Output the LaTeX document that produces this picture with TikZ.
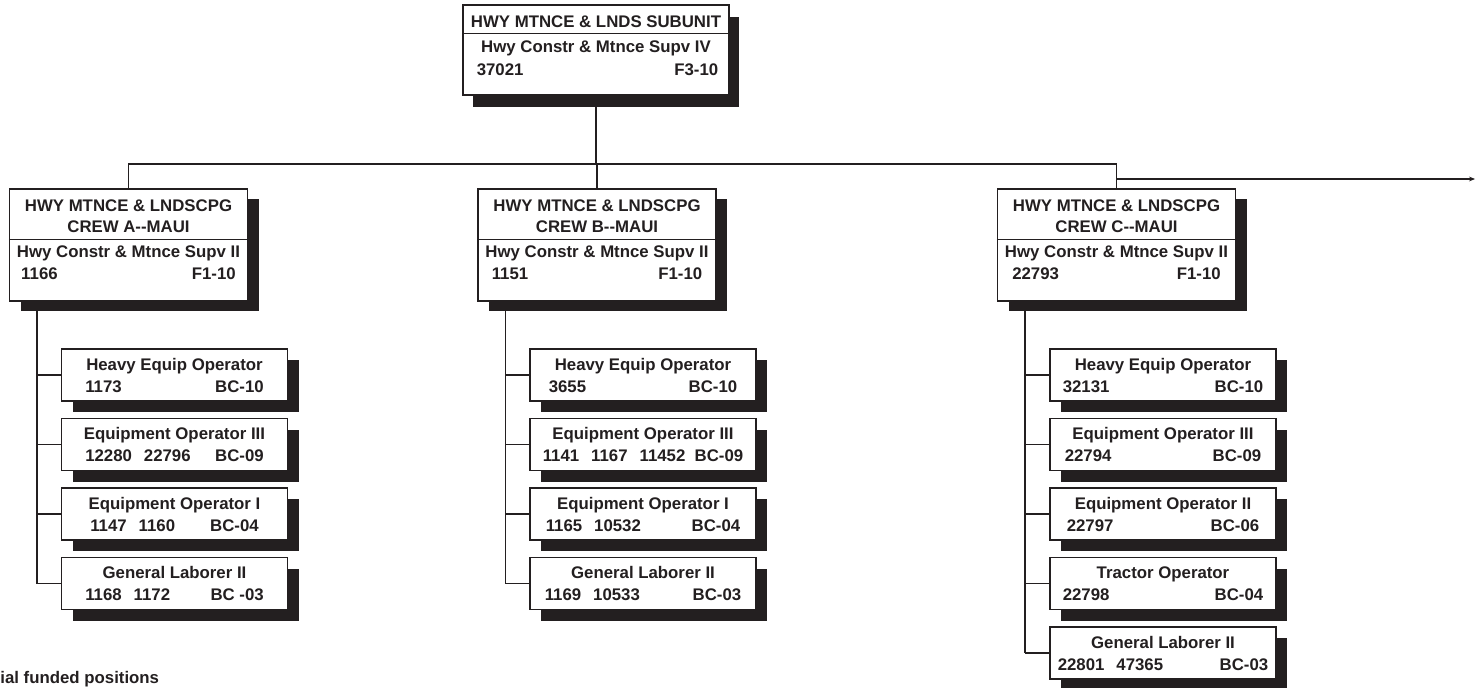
\documentclass[tikz,border=0pt]{standalone}
\usepackage{fontspec}
\setmainfont{Liberation Sans}
\usetikzlibrary{arrows.meta, positioning, calc, shadows, backgrounds}
\usepackage{xcolor}
\definecolor{ink}{HTML}{231F20}
\newcommand{\numgap}{\hspace{6pt}}

\begin{document}
\begin{tikzpicture}[x=0.5pt, y=-0.5pt,
    unit/.style={draw=ink, line width=0.65pt, fill=white, inner sep=0pt, minimum width=133pt, minimum height=45pt,
      drop shadow={shadow xshift=5pt, shadow yshift=-6pt, opacity=1, fill=ink}},
    crew/.style={draw=ink, line width=0.65pt, fill=white, inner sep=0pt, minimum width=119pt, minimum height=56pt,
      drop shadow={shadow xshift=5.5pt, shadow yshift=-5pt, opacity=1, fill=ink}},
    post/.style={draw=ink, line width=0.65pt, fill=white, inner sep=0pt, minimum width=113pt, minimum height=26pt,
      drop shadow={shadow xshift=5.5pt, shadow yshift=-5.5pt, opacity=1, fill=ink}},
    head/.style={font=\fontsize{8.4}{10}\selectfont\bfseries, text=ink, inner sep=0pt},
    link/.style={draw=ink, line width=0.65pt},
    rule/.style={draw=ink, line width=0.65pt}
  ]
    \useasboundingbox (0,0) rectangle (1477,687);

    % subunit
    \node[unit] (top) at (596,50) {};
    \draw[rule] ($(top.north west)+(0,29)$) -- ($(top.north east)+(0,29)$);
    \node[head, anchor=base] (top-u) at ($(top.north)+(0,23)$) {HWY MTNCE \& LNDS SUBUNIT};
    \node[head, anchor=base] (top-t) at ($(top.north)+(0,48)$) {Hwy Constr \& Mtnce Supv IV};
    \node[head, anchor=base west] (top-n) at ($(top.north west)+(14,71)$) {37021};
    \node[head, anchor=base east] (top-g) at ($(top.north east)+(-11,71)$) {F3-10};

    % crews
    \foreach \c/\x/\name/\num/\ins in {A/128.5/A/1166/12, B/597/B/1151/14, C/1116.5/C/22793/15} {
      \node[crew] (crew\c) at (\x,245) {};
      \draw[rule] ($(crew\c.north west)+(0,51)$) -- ($(crew\c.north east)+(0,51)$);
      \node[head, anchor=base] (crew\c-u) at ($(crew\c.north)+(0,23)$) {HWY MTNCE \& LNDSCPG};
      \node[head, anchor=base] (crew\c-w) at ($(crew\c.north)+(0,44)$) {CREW \name{-}{-}MAUI};
      \node[head, anchor=base] (crew\c-t) at ($(crew\c.north)+(0,69)$) {Hwy Constr \& Mtnce Supv II};
      \node[head, anchor=base west] (crew\c-n) at ($(crew\c.north west)+(\ins,91)$) {\num};
      \node[head, anchor=base east] (crew\c-g) at ($(crew\c.north east)+(-\ins,91)$) {F1-10};
      \coordinate (trunk\c) at ($(crew\c.south west)+(28,0)$);
    }

    % positions
    \foreach \id/\c/\x/\y/\job/\nums/\gr/\ins in {
        a1/A/174.5/375/Heavy Equip Operator/1173/BC-10/24,
        a2/A/174.5/444.5/Equipment Operator III/12280\numgap 22796/BC-09/24,
        a3/A/174.5/514/Equipment Operator I/1147\numgap 1160/BC-04/29,
        a4/A/174.5/583.5/General Laborer II/1168\numgap 1172/BC -03/24,
        b1/B/643/375/Heavy Equip Operator/3655/BC-10/19,
        b2/B/643/444.5/Equipment Operator III/1141\numgap 1167\numgap 11452/BC-09/13,
        b3/B/643/514/Equipment Operator I/1165\numgap 10532/BC-04/16,
        b4/B/643/583.5/General Laborer II/1169\numgap 10533/BC-03/15,
        c1/C/1163/375/Heavy Equip Operator/32131/BC-10/13,
        c2/C/1163/444.5/Equipment Operator III/22794/BC-09/15,
        c3/C/1163/514/Equipment Operator II/22797/BC-06/17,
        c4/C/1163/583.5/Tractor Operator/22798/BC-04/13,
        c5/C/1163/653/General Laborer II/22801\numgap 47365/BC-03/8} {
      \node[post] (\id) at (\x,\y) {};
      \node[head, anchor=base] (\id-t) at ($(\id.north)+(0,22)$) {\job};
      \node[head, anchor=base west] (\id-n) at ($(\id.north west)+(\ins,44)$) {\nums};
      \node[head, anchor=base east] (\id-g) at ($(\id.north east)+(-\ins,44)$) {\gr};
      \begin{scope}[on background layer]
        \draw[link] (\id.west) -- (\id.west -| trunk\c);
      \end{scope}
    }

    \coordinate (bus) at (0,164);
    \coordinate (cont) at (1475,179);
    \begin{scope}[on background layer]
      \draw[link] (top.south) -- (top.south |- bus);
      \draw[link] (crewA.north) |- (crewC.north |- bus) -- (crewC.north);
      \draw[link] (crewB.north) -- (crewB.north |- bus);
      \draw[link, -{Stealth[length=3pt, width=2.4pt]}] (crewC.north |- cont) -- (cont);
      \draw[link] (trunkA) -- (trunkA |- a4.west);
      \draw[link] (trunkB) -- (trunkB |- b4.west);
      \draw[link] (trunkC) -- (trunkC |- c5.west);
    \end{scope}

    \node[head, anchor=base west] (note) at (0,683) {ial funded positions};
  \end{tikzpicture}
\end{document}
